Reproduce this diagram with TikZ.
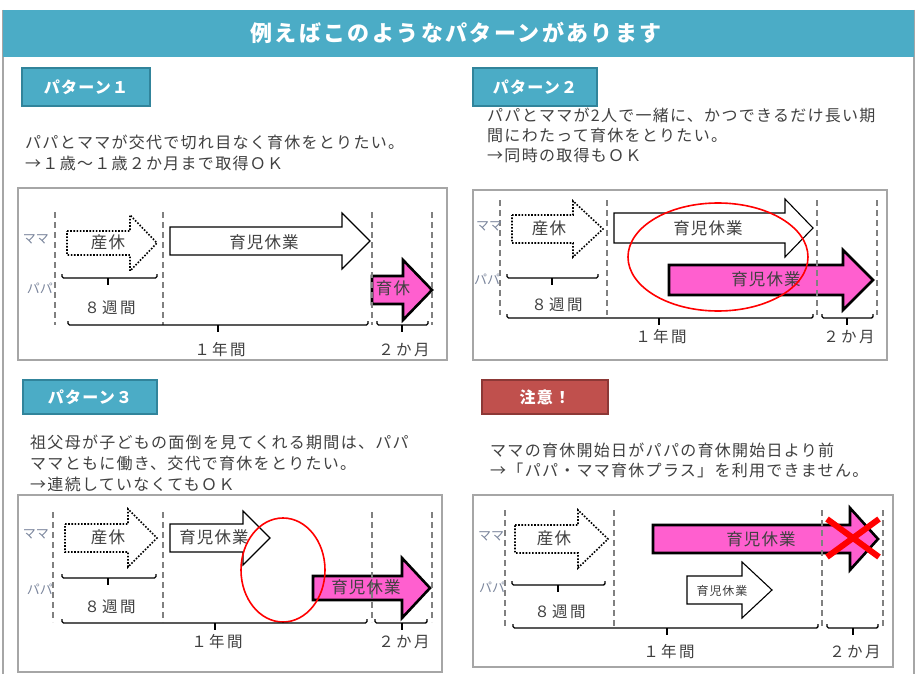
\documentclass[tikz,border=0pt]{standalone}
\usepackage{fontspec}
\setmainfont{Noto Sans CJK JP}
\newfontfamily\titlefont[LetterSpace=11]{Noto Sans CJK JP}
\newfontfamily\lblfont[LetterSpace=8]{Noto Sans CJK JP}
\newfontfamily\bodyfont[LetterSpace=8]{Noto Sans CJK JP}
\newfontfamily\inafont[LetterSpace=7]{Noto Sans CJK JP}
\newfontfamily\spanfont[LetterSpace=16]{Noto Sans CJK JP}
\definecolor{hdr}{HTML}{4BACC6}
\definecolor{hdrdark}{HTML}{31849B}
\definecolor{warn}{HTML}{C0504D}
\definecolor{warndark}{HTML}{8C3836}
\definecolor{txt}{HTML}{404040}
\definecolor{whoc}{HTML}{7A859C}
\definecolor{pinkf}{HTML}{FF5FCF}
\definecolor{framec}{HTML}{A6A6A6}
\definecolor{dashc}{HTML}{808080}
\newcommand{\blockarrow}[7]{\draw[#1] (#2,#5-#6) -- (#3,#5-#6) -- (#3,#5-#7) -- (#4,#5) -- (#3,#5+#7) -- (#3,#5+#6) -- (#2,#5+#6) -- cycle;}
\newcommand{\spanbrace}[4]{\draw[bracel] (#1,#4-4) -- (#1,#4) -- (#2,#4) -- (#2,#4-4); \draw[bracel] (#3,#4) -- (#3,#4+7);}
\tikzset{
  lbl/.style={draw=hdrdark, fill=hdr, line width=1.2pt, text=white, font=\lblfont\fontsize{16}{19}\selectfont\bfseries, inner sep=0pt},
  body/.style={anchor=west, text=txt, font=\bodyfont\fontsize{16}{20}\selectfont, inner sep=0pt},
  who/.style={text=whoc, font=\fontsize{13}{15}\selectfont, inner sep=0pt},
  intext/.style={text=txt, font=\inafont\fontsize{16.5}{20}\selectfont, inner sep=0pt},
  spantext/.style={text=txt, font=\spanfont\fontsize{15.5}{19}\selectfont, inner sep=0pt},
  diagbox/.style={draw=framec, line width=1.5pt},
  vdashl/.style={draw=dashc, line width=1.8pt, dash pattern=on 6pt off 4pt},
  dotarrow/.style={draw=black, line width=1.6pt, dash pattern=on 1.6pt off 1.6pt, fill=white},
  whitearrow/.style={draw=black, line width=1.1pt, fill=white},
  pinkarrow/.style={draw=black, line width=2.6pt, fill=pinkf, line join=miter},
  bracel/.style={draw=black, line width=1.4pt, rounded corners=1.5pt},
  redring/.style={draw=red, line width=1.6pt},
}
\begin{document}
\begin{tikzpicture}[x=1pt, y=-1pt]
\useasboundingbox (0,0) rectangle (921,674);
\fill[white] (0,0) rectangle (921,674);
% outer frame and header
\draw[framec, line width=2pt] (3,10) -- (3,674);
\draw[framec, line width=2pt] (914,10) -- (914,674);
\fill[hdr] (3,10) rectangle (914,57);
\node[text=white, font=\titlefont\fontsize{22}{26}\selectfont\bfseries, inner sep=0pt] (title) at (456,33) {例えばこのようなパターンがあります};

% labels
\node[lbl, minimum width=128pt, minimum height=38pt] (lab1) at (86,87) {パターン１};
\node[lbl, minimum width=124pt, minimum height=38pt] (lab2) at (535,87) {パターン２};
\node[lbl, minimum width=134pt, minimum height=34pt] (lab3) at (90,397) {パターン３};
\node[lbl, draw=warndark, fill=warn, minimum width=126pt, minimum height=34pt] (lab4) at (545,397) {注意！};

% descriptions
\node[body] (t1a) at (25,142) {パパとママが交代で切れ目なく育休をとりたい。};
\node[body] (t1b) at (25,163) {→１歳～１歳２か月まで取得ＯＫ};
\node[body] (t2a) at (487,115) {パパとママが2人で一緒に、かつできるだけ長い期};
\node[body] (t2b) at (487,135) {間にわたって育休をとりたい。};
\node[body] (t2c) at (487,155) {→同時の取得もＯＫ};
\node[body] (t3a) at (30,442) {祖父母が子どもの面倒を見てくれる期間は、パパ};
\node[body] (t3b) at (30,463) {ママともに働き、交代で育休をとりたい。};
\node[body] (t3c) at (30,484) {→連続していなくてもＯＫ};
\node[body] (t4a) at (490,450) {ママの育休開始日がパパの育休開始日より前};
\node[body] (t4b) at (490,470) {→「パパ・ママ育休プラス」を利用できません。};

% diagram boxes
\draw[diagbox] (18,188) rectangle (447,360);
\draw[diagbox] (473,190) rectangle (887,360);
\draw[diagbox] (18,495) rectangle (442,672);
\draw[diagbox] (473,495) rectangle (893,667);

% ---------- diagram 1 ----------
\blockarrow{dotarrow}{67}{130}{157}{243}{12}{28}
\blockarrow{whitearrow}{170}{342}{370}{241}{14}{28}
\blockarrow{pinkarrow}{372}{403}{432}{290}{14}{30}
\foreach \xx in {55,163,372,432} \draw[vdashl] (\xx,212) -- (\xx,325);
\node[who] (m1) at (36,239) {ママ};
\node[who] (p1) at (40,288) {パパ};
\node[intext] (a1a) at (108,242) {産休};
\node[intext] (a1b) at (264,242) {育児休業};
\node[intext] (a1c) at (393,288) {育休};
\spanbrace{62}{157}{108}{278}
\spanbrace{68}{368}{218}{325}
\spanbrace{377}{428}{402}{325}
\node[spantext] (s1a) at (110,308) {８週間};
\node[spantext] (s1b) at (220,350) {１年間};
\node[spantext] (s1c) at (404,350) {２か月};

% ---------- diagram 2 ----------
\blockarrow{dotarrow}{512}{573}{603}{229}{14}{28}
\blockarrow{whitearrow}{614}{785}{813}{228}{15}{29}
\blockarrow{pinkarrow}{669}{843}{873}{280}{15}{30}
\foreach \xx in {500,607,817,877} \draw[vdashl] (\xx,200) -- (\xx,315);
\node[who] (m2) at (489,226) {ママ};
\node[who] (p2) at (487,279) {パパ};
\node[intext] (a2a) at (549,228) {産休};
\node[intext] (a2b) at (708,228) {育児休業};
\node[intext] (a2c) at (766,279) {育児休業};
\draw[redring] (718,257) ellipse [x radius=90, y radius=54];
\spanbrace{507}{598}{552}{278}
\spanbrace{507}{813}{659}{318}
\spanbrace{822}{873}{847}{318}
\node[spantext] (s2a) at (557,305) {８週間};
\node[spantext] (s2b) at (661,337) {１年間};
\node[spantext] (s2c) at (849,337) {２か月};

% ---------- diagram 3 ----------
\blockarrow{dotarrow}{65}{128}{157}{538}{14}{29}
\blockarrow{whitearrow}{170}{243}{270}{538}{14}{27}
\blockarrow{pinkarrow}{313}{402}{430}{588}{12}{30}
\foreach \xx in {53,163,372,432} \draw[vdashl] (\xx,512) -- (\xx,622);
\node[who] (m3) at (36,534) {ママ};
\node[who] (p3) at (40,589) {パパ};
\node[intext] (a3a) at (108,537) {産休};
\node[intext] (a3b) at (214,537) {育児休業};
\node[intext] (a3c) at (366,587) {育児休業};
\draw[redring] (283,570) ellipse [x radius=42, y radius=52];
\spanbrace{62}{156}{108}{578}
\spanbrace{62}{367}{215}{623}
\spanbrace{375}{427}{402}{623}
\node[spantext] (s3a) at (110,607) {８週間};
\node[spantext] (s3b) at (217,642) {１年間};
\node[spantext] (s3c) at (404,642) {２か月};

% ---------- diagram 4 ----------
\blockarrow{dotarrow}{515}{578}{608}{539}{14}{29}
\blockarrow{pinkarrow}{653}{850}{878}{539}{14}{31}
\blockarrow{whitearrow}{687}{742}{772}{590}{14}{28}
\foreach \xx in {505,614,822,883} \draw[vdashl] (\xx,510) -- (\xx,628);
\node[who] (m4) at (491,536) {ママ};
\node[who] (p4) at (492,587) {パパ};
\node[intext] (a4a) at (554,538) {産休};
\node[intext] (a4b) at (761,539) {育児休業};
\node[text=txt, font=\inafont\fontsize{12}{14}\selectfont, inner sep=0pt] (a4c) at (722,591) {育児休業};
\draw[red, line width=6pt] (827,519) -- (879,557);
\draw[red, line width=6pt] (827,557) -- (879,519);
\spanbrace{512}{605}{558}{585}
\spanbrace{513}{818}{667}{628}
\spanbrace{827}{878}{853}{628}
\node[spantext] (s4a) at (560,612) {８週間};
\node[spantext] (s4b) at (669,652) {１年間};
\node[spantext] (s4c) at (855,652) {２か月};
\end{tikzpicture}
\end{document}
